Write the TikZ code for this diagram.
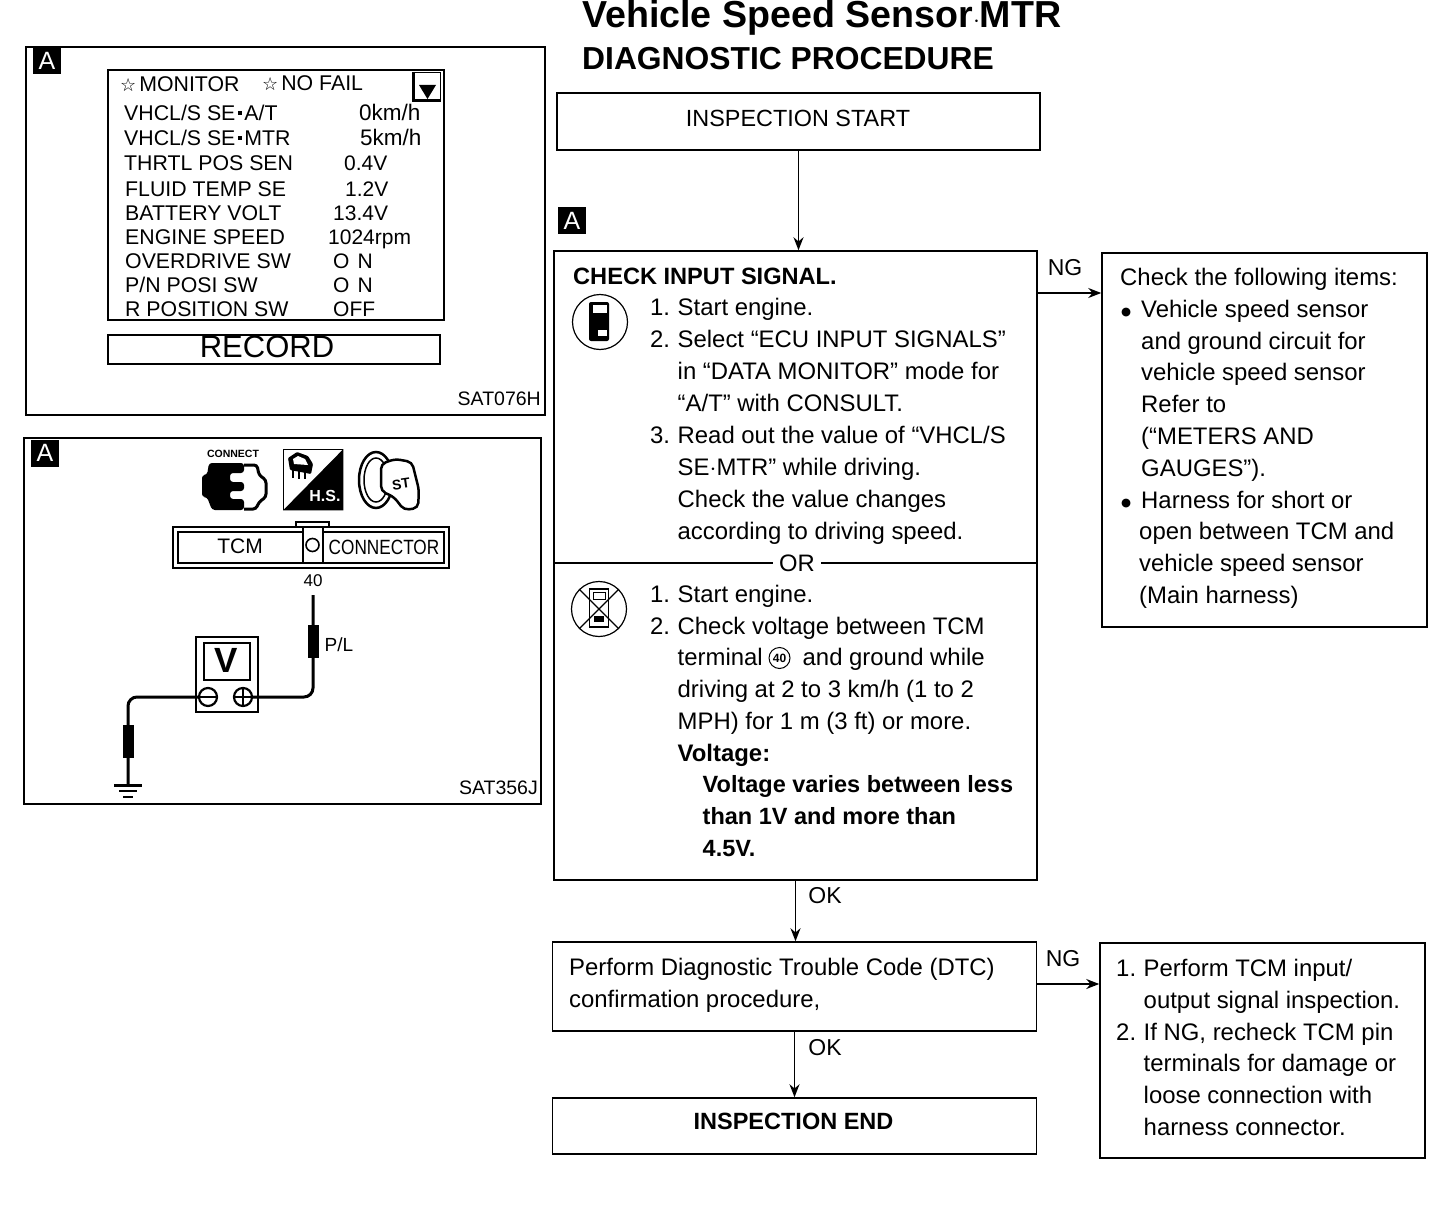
\documentclass[tikz,border=0pt]{standalone}
\usepackage{fontspec}
\setmainfont{Liberation Sans}
\newfontfamily\symfont{DejaVu Sans}
\usetikzlibrary{arrows.meta,positioning,calc}
\newcommand{\stepnum}[1]{\makebox[27.5pt][l]{#1}}
\newcommand{\bulletmark}{\makebox[21pt][l]{\hspace*{1pt}\raisebox{1.5pt}{\symfont\fontsize{11.5}{11.5}\selectfont ●}}}
\newcommand{\rowdot}{\hspace{2.5pt}\rule[6pt]{4pt}{4pt}\hspace{2.5pt}}
\newcommand{\headstar}{{\symfont\fontsize{18}{18}\selectfont ☆}\hspace{3pt}}

\begin{document}
\begin{tikzpicture}[
    x=1pt,y=-1pt,
    >={Stealth[length=13pt,width=10pt]},
    flowbox/.style={
        rectangle,
        draw,
        line width=1.5pt,
        inner sep=0pt,
        font=\fontsize{23.8}{32}\selectfont,
        align=center
    },
    panel/.style={
        rectangle,
        draw,
        line width=1.6pt,
        anchor=north west,
        inner sep=0pt
    },
    badge/.style={
        rectangle,
        fill=black,
        text=white,
        minimum width=28pt,
        minimum height=27pt,
        inner sep=0pt,
        font=\fontsize{25}{25}\selectfont
    },
    steptext/.style={
        anchor=north west,
        inner sep=0pt,
        align=left,
        font=\fontsize{23.9}{#1}\selectfont
    },
    steptext/.default=32,
    flowlabel/.style={inner sep=0pt,font=\fontsize{23}{23}\selectfont},
    rowname/.style={anchor=base west,inner sep=0pt,font=\fontsize{21.3}{21}\selectfont},
    rowvalue/.style={anchor=base west,inner sep=0pt,font=\fontsize{21}{21}\selectfont},
    figcode/.style={anchor=base east,inner sep=0pt,font=\fontsize{19.5}{20}\selectfont},
    flow/.style={->,line width=1.5pt},
    wire/.style={line width=3pt,rounded corners=9pt},
    sleeve/.style={rectangle,fill=black,minimum width=11pt,inner sep=0pt}
]
\useasboundingbox (0,0) rectangle (1456,1212);

% Title
\node[anchor=base west,inner sep=0pt,font=\fontsize{37.6}{38}\bfseries] (title) at (582,28) {Vehicle Speed Sensor$\cdot$MTR};
\node[anchor=base west,inner sep=0pt,font=\fontsize{31.8}{32}\bfseries] (subtitle) at (582,70) {DIAGNOSTIC PROCEDURE};

% Flow boxes
\node[flowbox,minimum width=483pt,minimum height=57pt] (startbox) at (798.5,121.5) {};
\node[flowlabel,font=\fontsize{23.4}{24}\selectfont] (starttext) at (798,118) {INSPECTION START};
\node[badge] (badgec) at (572,220.5) {A};
\node[flowbox,minimum width=483pt,minimum height=629pt] (mainbox) at (795.5,565.5) {};
\node[flowbox,minimum width=325pt,minimum height=374pt] (rightbox) at (1264.5,440) {};
\node[flowbox,minimum width=484pt,minimum height=89pt] (dtcbox) at (794.5,986.5) {};
\node[flowbox,minimum width=325pt,minimum height=215pt] (fixbox) at (1262.5,1050.5) {};
\node[flowbox,minimum width=484pt,minimum height=56pt] (endbox) at (794.5,1126) {};
\node[flowlabel,font=\fontsize{23.5}{23}\bfseries] (endtext) at (793.5,1121) {INSPECTION END};

% Arrows
\coordinate (ngA) at (1070,293);
\coordinate (ngB) at (1070,984);
\draw[flow] (startbox.south) -- (startbox.south |- mainbox.north);
\draw[flow] (mainbox.east |- ngA) -- (rightbox.west |- ngA);
\draw[flow] (mainbox.south) -- (mainbox.south |- dtcbox.north);
\draw[flow] (dtcbox.east |- ngB) -- (fixbox.west |- ngB);
\draw[flow] (dtcbox.south) -- (endbox.north);
\node[flowlabel] (ngtop) at (1065,268) {NG};
\node[flowlabel] (ngbot) at (1063,959) {NG};
\node[flowlabel] (oktop) at (825,896) {OK};
\node[flowlabel] (okbot) at (825,1048) {OK};

% Main box text
\node[anchor=base west,inner sep=0pt,font=\fontsize{23.6}{24}\bfseries] (checkhead) at (573,284) {CHECK INPUT SIGNAL.};
\node[steptext] (stepsa) at (650,298) {\stepnum{1.}Start engine.\\
\stepnum{2.}Select “ECU INPUT SIGNALS”\\
\stepnum{}in “DATA MONITOR” mode for\\
\stepnum{}“A/T” with CONSULT.\\
\stepnum{3.}Read out the value of “VHCL/S\\
\stepnum{}SE$\cdot$MTR” while driving.\\
\stepnum{}Check the value changes\\
\stepnum{}according to driving speed.};
\node[inner xsep=6pt,inner ysep=2pt,font=\fontsize{23.8}{24}\selectfont] (orlabel) at (797,563) {OR};
\draw[line width=1.5pt] (mainbox.west |- orlabel) -- (orlabel.west);
\draw[line width=1.5pt] (orlabel.east) -- (mainbox.east |- orlabel);
\node[steptext=31.7] (stepsb) at (650,585) {\stepnum{1.}Start engine.\\
\stepnum{2.}Check voltage between TCM\\
\stepnum{}\makebox[125pt][l]{terminal}and ground while\\
\stepnum{}driving at 2 to 3 km/h (1 to 2\\
\stepnum{}MPH) for 1 m (3 ft) or more.\\
\stepnum{}\textbf{Voltage:}\\
\stepnum{}\hspace*{25pt}{\fontsize{23.5}{31.7}\bfseries Voltage varies between less}\\
\stepnum{}\hspace*{25pt}{\fontsize{23.5}{31.7}\bfseries than 1V and more than}\\
\stepnum{}\hspace*{25pt}{\fontsize{23.5}{31.7}\bfseries 4.5V.}};
\node[circle,draw,line width=1pt,minimum size=21pt,inner sep=0pt,font=\fontsize{12}{12}\bfseries] (pinmark) at (779.5,658) {40};

% Mode icons
\node[circle,draw,line width=1.2pt,minimum size=55pt] (consulticon) at (600,322) {};
\node[rectangle,rounded corners=2pt,fill=black,minimum width=20pt,minimum height=39pt,inner sep=0pt] (consultbody) at (599,321.5) {};
\node[rectangle,fill=white,minimum width=14pt,minimum height=8pt,inner sep=0pt] (consultscreen) at (600,309) {};
\node[rectangle,fill=white,minimum width=9pt,minimum height=6pt,inner sep=0pt] (consultkeys) at (602,333) {};
\node[circle,draw,line width=1.2pt,minimum size=55pt] (metericon) at (599,609) {};
\node[rectangle,draw,line width=1.2pt,minimum width=19pt,minimum height=38pt,inner sep=0pt] (meterbody) at (599,608) {};
\node[rectangle,draw,line width=1pt,minimum width=12pt,minimum height=7pt,inner sep=0pt] (meterdisplay) at (599,596) {};
\node[rectangle,fill=black,minimum width=10pt,minimum height=6pt,inner sep=0pt] (meterknob) at (599,619) {};
\draw[line width=1.2pt] (metericon.north west) -- (metericon.south east);
\draw[line width=1.2pt] (metericon.north east) -- (metericon.south west);

% Right box text
\node[steptext=31.8] (rightlist) at (1120,268) {Check the following items:\\
\bulletmark Vehicle speed sensor\\
\makebox[21pt]{}and ground circuit for\\
\makebox[21pt]{}vehicle speed sensor\\
\makebox[21pt]{}Refer to\\
\makebox[21pt]{}(“METERS AND\\
\makebox[21pt]{}GAUGES”).\\
\bulletmark Harness for short or\\
\makebox[19pt]{}open between TCM and\\
\makebox[19pt]{}vehicle speed sensor\\
\makebox[19pt]{}(Main harness)};
\node[steptext] (dtctext) at (569,958) {Perform Diagnostic Trouble Code (DTC)\\confirmation procedure,};
\node[steptext=31.8] (fixlist) at (1116,959) {\stepnum{1.}Perform TCM input/\\
\stepnum{}output signal inspection.\\
\stepnum{2.}If NG, recheck TCM pin\\
\stepnum{}terminals for damage or\\
\stepnum{}loose connection with\\
\stepnum{}harness connector.};

% Monitor panel
\node[panel,minimum width=519pt,minimum height=368pt] (monitorpanel) at (25,46) {};
\node[badge] (badgea) at (47,61) {A};
\node[panel,minimum width=336pt,minimum height=250pt] (monitorframe) at (107,69) {};
\node[panel,minimum width=332pt,minimum height=29pt] (recordbox) at (107,334) {};
\node[font=\fontsize{31}{31}\selectfont,inner sep=0pt] (recordtext) at (267,347) {RECORD};
\node[rowname] (headmon) at (120,92) {\headstar MONITOR};
\node[rowname] (headfail) at (262,91) {\headstar NO FAIL};
\node[panel,line width=1.4pt,minimum width=27pt,minimum height=27pt] (pagebox) at (413,72) {};
\draw[line width=3pt] (pagebox.north west) -- (pagebox.south west) -- (pagebox.south east);
\fill (419,85) -- (436,85) -- (427.5,99) -- cycle;
\node[rowname] (rowa) at (124,121) {VHCL/S SE\rowdot A/T};
\node[rowname] (rowb) at (124,146) {VHCL/S SE\rowdot MTR};
\node[rowname] (rowc) at (124,171) {THRTL POS SEN};
\node[rowname] (rowd) at (125,196) {FLUID TEMP SE};
\node[rowname] (rowe) at (125,220) {BATTERY VOLT};
\node[rowname] (rowf) at (125,244) {ENGINE SPEED};
\node[rowname] (rowg) at (125,268) {OVERDRIVE SW};
\node[rowname] (rowh) at (125,292) {P/N POSI SW};
\node[rowname] (rowi) at (125,316) {R POSITION SW};
\node[rowvalue,font=\fontsize{22.5}{22}\selectfont] (vala) at (359,121) {0km/h};
\node[rowvalue,font=\fontsize{22.5}{22}\selectfont] (valb) at (360,146) {5km/h};
\node[rowvalue] (valc) at (344,171) {0.4V};
\node[rowvalue] (vald) at (345,196) {1.2V};
\node[rowvalue] (vale) at (333,220) {13.4V};
\node[rowvalue] (valf) at (328,244) {1024rpm};
\node[rowvalue] (valg) at (333,268) {O\hspace{8pt}N};
\node[rowvalue] (valh) at (333,292) {O\hspace{8pt}N};
\node[rowvalue] (vali) at (333,316) {OFF};
\node[figcode] (codea) at (541,405) {SAT076H};

% Voltage panel
\node[panel,minimum width=517pt,minimum height=366pt] (voltpanel) at (23,437) {};
\node[badge] (badgeb) at (45,453) {A};
\node[figcode] (codeb) at (538,794) {SAT356J};

% Connect icon
\node[inner sep=0pt,font=\fontsize{10.5}{11}\bfseries] (connectlabel) at (233,454) {CONNECT};
\fill[rounded corners=3pt] (202,475) -- (207,475) -- (209,463) -- (244,463) -- (244,473) -- (230,473) -- (230,482) -- (244,482) -- (244,491) -- (230,491) -- (230,499) -- (244,499) -- (244,510) -- (212,510) -- (207,497) -- (202,497) -- cycle;
\draw[line width=3pt,rounded corners=3pt] (244,465) -- (257,465) -- (259,475) -- (266,480) -- (266,497) -- (259,502) -- (256,509) -- (244,509);

% Hot shot icon
\node[panel,line width=1.4pt,minimum width=59pt,minimum height=60pt] (hsbox) at (283,449) {};
\fill (hsbox.north east) -- (hsbox.south east) -- (hsbox.south west) -- cycle;
\node[inner sep=0pt,text=white,font=\fontsize{16}{16}\bfseries] (hstext) at (325,496) {H.S.};
\fill[rounded corners=1pt] (288,458) -- (297,452) -- (308,456) -- (313,464) -- (311,474) -- (290,470) -- cycle;
\fill[white] (293,459) -- (298,456) -- (305,459) -- (308,465) -- (294,464) -- cycle;
\draw[line width=1.4pt] (293,470) -- (293,478);
\draw[line width=1.4pt] (299,471) -- (299,479);
\draw[line width=1.4pt] (305,472) -- (305,479);

% Ignition key icon
\draw[line width=2.5pt] (376,480) ellipse (17 and 28);
\draw[line width=1.5pt] (376,480) ellipse (12 and 22);
\draw[line width=2.5pt,fill=white,rounded corners=5pt] (381,464) -- (395,459) -- (412,462) -- (419,490) -- (418,508) -- (404,510) -- (394,497) -- (381,491) -- cycle;
\node[inner sep=0pt,rotate=8,font=\fontsize{14}{14}\bfseries] (keytext) at (401,484) {ST};

% Connector block
\node[panel,line width=2pt,minimum width=276pt,minimum height=41pt] (tcmouter) at (172,526) {};
\node[panel,line width=2pt,minimum width=266pt,minimum height=31pt] (tcminner) at (177,531) {};
\node[panel,line width=2pt,minimum width=20pt,minimum height=36pt,fill=white] (pinslot) at (302,526) {};
\draw[line width=2pt] (296,526) -- (296,522) -- (329,522) -- (329,526);
\node[circle,draw,line width=1.6pt,minimum size=13pt,inner sep=0pt] (pinhole) at (312.5,545) {};
\node[inner sep=0pt,font=\fontsize{21}{21}\selectfont] (tcmtext) at (240,546) {TCM};
\node[inner sep=0pt,yscale=1.2,transform shape,font=\fontsize{17.2}{18}\selectfont] (conntext) at (384,547) {CONNECTOR};
\node[inner sep=0pt,font=\fontsize{17}{17}\selectfont] (pinnum) at (313,581) {40};

% Meter and leads
\node[panel,line width=2.4pt,minimum width=62pt,minimum height=75pt] (meterbox) at (195,636) {};
\node[panel,line width=2pt,minimum width=46pt,minimum height=37pt] (meterface) at (203,642) {};
\node[inner sep=0pt,font=\fontsize{35}{35}\bfseries] (metertext) at (226.5,660) {V};
\node[circle,draw,line width=2.2pt,minimum size=18pt,inner sep=0pt] (minusport) at (208,697) {};
\node[circle,draw,line width=2.2pt,minimum size=18pt,inner sep=0pt] (plusport) at (243,697) {};
\draw[line width=2.2pt] (minusport.west) -- (minusport.east);
\draw[line width=2.2pt] (plusport.west) -- (plusport.east);
\draw[line width=2.2pt] (plusport.north) -- (plusport.south);
\coordinate (probetop) at (313,595);
\coordinate (leadcorner) at (313,697);
\coordinate (groundcorner) at (128,697);
\coordinate (groundtop) at (128,785);
\draw[wire] (probetop) -- (leadcorner) -- (plusport.east);
\draw[wire] (minusport.west) -- (groundcorner) -- (groundtop);
\node[sleeve,minimum height=33pt] (sleevea) at (313,641) {};
\node[sleeve,minimum height=33pt] (sleeveb) at (128,741) {};
\node[inner sep=0pt,font=\fontsize{19}{19}\selectfont] (pllabel) at (339,645) {P/L};
\draw[line width=3pt] (114,785) -- (142,785);
\draw[line width=2.4pt] (119,791) -- (137,791);
\draw[line width=2.4pt] (123,797) -- (133,797);
\end{tikzpicture}
\end{document}
